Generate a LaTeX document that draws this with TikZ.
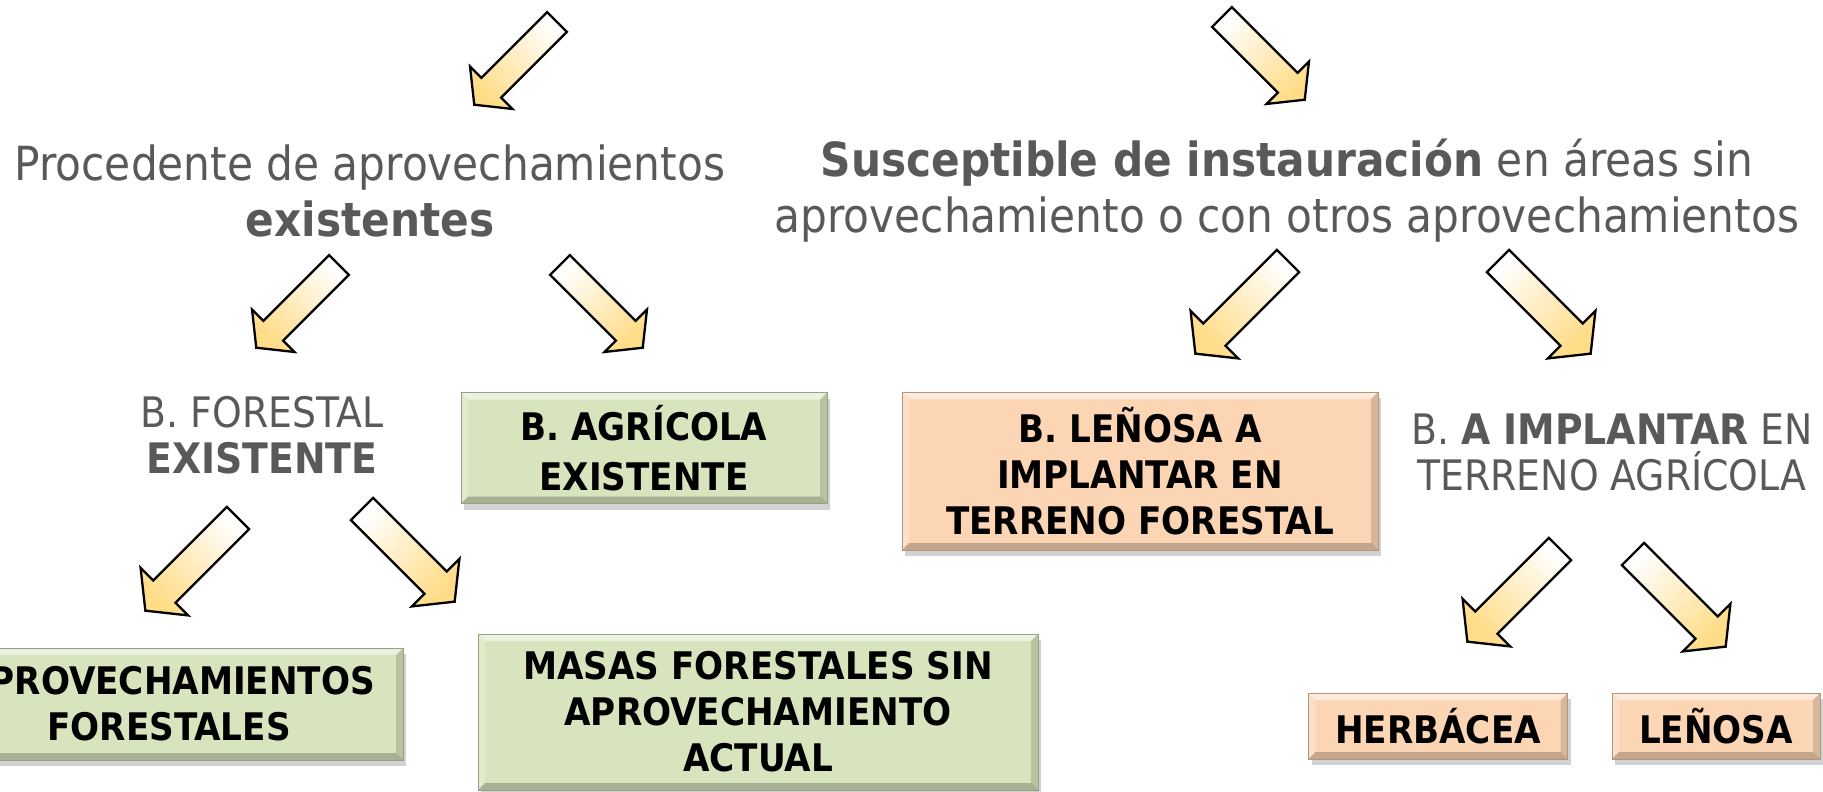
\documentclass[tikz,border=0pt]{standalone}
\usepackage{fontspec}
\setmainfont{DejaVu Sans Condensed}
\usepackage{tikz}
\usetikzlibrary{shapes,arrows,positioning,calc,shadows,arrows.meta}

\definecolor{boxgreen}{RGB}{215,228,189}
\definecolor{boxorange}{RGB}{252,213,181}
\definecolor{arrowgold}{RGB}{255,220,135}
\definecolor{textgray}{RGB}{89,89,89}

\newcommand{\boxfont}{\fontsize{38}{46}\selectfont\bfseries}
\newcommand{\labelfont}{\fontsize{42}{46}\selectfont}
\newcommand{\headfont}{\fontsize{47}{56}\selectfont}

% block arrow: tail centre, angle, scale
\newcommand{\fatarrow}[3]{%
  \begin{scope}[shift={#1}, rotate=#2, scale=#3]
    \shade[top color=white, bottom color=arrowgold, shading angle=#2-270, draw=black, line width=2.3pt]
      (0,14) -- (93,14) -- (93,30) -- (117,0) -- (93,-30) -- (93,-14) -- (0,-14) -- cycle;
  \end{scope}}

\tikzset{
  bevel/.style={path picture={
    \fill[white,opacity=.5] (path picture bounding box.north west) -- (path picture bounding box.north east)
      -- ([xshift=-7pt,yshift=-7pt]path picture bounding box.north east) -- ([xshift=7pt,yshift=-7pt]path picture bounding box.north west) -- cycle;
    \fill[white,opacity=.25] (path picture bounding box.north west) -- ([xshift=7pt,yshift=-7pt]path picture bounding box.north west)
      -- ([xshift=7pt,yshift=7pt]path picture bounding box.south west) -- (path picture bounding box.south west) -- cycle;
    \fill[black,opacity=.14] (path picture bounding box.north east) -- ([xshift=-7pt,yshift=-7pt]path picture bounding box.north east)
      -- ([xshift=-7pt,yshift=7pt]path picture bounding box.south east) -- (path picture bounding box.south east) -- cycle;
    \fill[black,opacity=.22] (path picture bounding box.south west) -- (path picture bounding box.south east)
      -- ([xshift=-7pt,yshift=7pt]path picture bounding box.south east) -- ([xshift=7pt,yshift=7pt]path picture bounding box.south west) -- cycle;
  }},
  catbox/.style={draw=#1!70!black, line width=0.5pt, fill=#1, bevel, inner sep=0pt, align=center, font=\boxfont,
    drop shadow={shadow xshift=3pt, shadow yshift=-6pt, opacity=.35}},
  graytext/.style={text=textgray, align=center, inner sep=0pt}
}

\begin{document}
\begin{tikzpicture}[x=1pt, y=-1pt]
  \fill[white] (0,0) rectangle (1823,792);
  \useasboundingbox (0,0) rectangle (1823,792);

  % headings
  \node[graytext, font=\headfont] (proc) at (370,191) {Procedente de aprovechamientos\\\textbf{existentes}};
  \node[graytext, font=\headfont] (susc) at (1287,191) {\textbf{Susceptible de instauración} en áreas sin\\aprovechamiento o con otros aprovechamientos};

  % second level
  \node[graytext, font=\labelfont] (forest) at (262,435) {B. FORESTAL\\\textbf{EXISTENTE}};
  \node[catbox=boxgreen, minimum width=366, minimum height=111, font=\fontsize{38}{50}\selectfont\bfseries] (agri) at (644,448) {B. AGRÍCOLA\\EXISTENTE};
  \node[catbox=boxorange, minimum width=476, minimum height=158] (leforest) at (1140,471) {B. LEÑOSA A\\IMPLANTAR EN\\TERRENO FORESTAL};
  \node[graytext, font=\labelfont] (implant) at (1612,452) {B. \textbf{A IMPLANTAR} EN\\TERRENO AGRÍCOLA};

  % third level
  \node[catbox=boxgreen, minimum width=468, minimum height=112] (aprov) at (169,704) {APROVECHAMIENTOS\\FORESTALES};
  \node[catbox=boxgreen, minimum width=560, minimum height=156] (masas) at (758,712) {MASAS FORESTALES SIN\\APROVECHAMIENTO\\ACTUAL};
  \node[catbox=boxorange, minimum width=259, minimum height=66] (herb) at (1438,726) {HERBÁCEA};
  \node[catbox=boxorange, minimum width=208, minimum height=66] (lenosa) at (1716,726) {LEÑOSA};

  % block arrows
  \fatarrow{(557,22)}{225}{1}
  \fatarrow{(1222,17)}{-45}{1}
  \fatarrow{(339,265)}{225}{1}
  \fatarrow{(560,265)}{-45}{1}
  \fatarrow{(1288,261)}{225}{1.12}
  \fatarrow{(1498,261)}{-45}{1.12}
  \fatarrow{(238,518)}{225}{1.12}
  \fatarrow{(362,509)}{-45}{1.12}
  \fatarrow{(1560,549)}{225}{1.12}
  \fatarrow{(1633,554)}{-45}{1.12}
\end{tikzpicture}
\end{document}
